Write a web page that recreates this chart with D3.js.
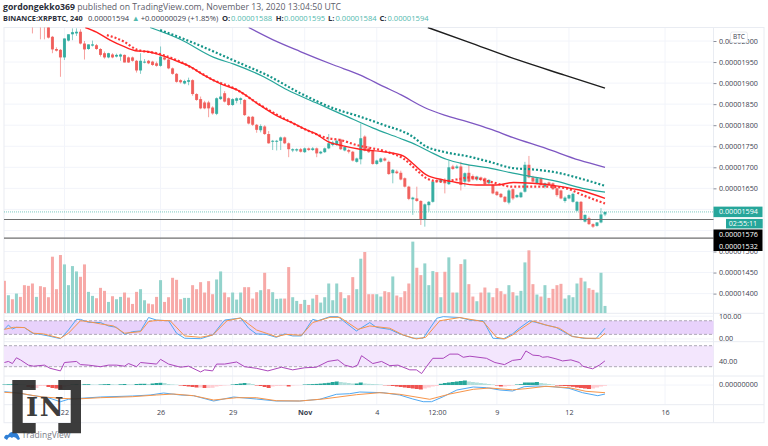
<!DOCTYPE html>
<html>
<head>
<meta charset="utf-8">
<script src="https://d3js.org/d3.v7.min.js"></script>
<style>
	html, body { margin: 0; padding: 0; background: #fff; }
	text { font-family: "Open Sans", Arial, sans-serif; }
</style>
</head>
<body>
<div id="chart"></div>
<script>
// prices are in satoshi (1e-8 BTC), one 4h bar per array slot
const openPrices = [
	2110,2096,2104,2092,2100,2086,2072,2062,2044,2056,
	2040,2036,2010,1981,1979,1961,2001,2016,2018,2022,
	1994,1981,1989,1990,1981,1971,1961,1968,1963,1963,
	1967,1961,1961,1953,1930,1949,1953,1951,1947,1941,
	1961,1956,1935,1922,1907,1899,1903,1907,1874,1862,
	1854,1854,1842,1827,1862,1876,1864,1848,1858,1860,
	1860,1820,1820,1801,1788,1797,1779,1761,1761,1763,
	1771,1757,1740,1740,1743,1736,1745,1741,1745,1733,
	1736,1745,1753,1753,1766,1740,1741,1737,1713,1719,
	1773,1745,1740,1708,1713,1721,1713,1686,1690,1687,
	1674,1654,1624,1626,1620,1576,1610,1618,1670,1665,
	1670,1660,1702,1698,1702,1666,1687,1679,1671,1676,
	1674,1662,1658,1642,1637,1630,1616,1648,1629,1629,
	1642,1706,1676,1662,1674,1654,1664,1662,1650,1645,
	1620,1626,1618,1597,1618,1571,1579,1565,1561,1569,1588
];
const highPrices = [
	2118,2110,2108,2106,2102,2090,2078,2066,2062,2060,
	2050,2044,2012,1985,1981,2006,2016,2030,2030,2028,
	2000,1992,2001,1993,1983,1975,1972,1971,1970,1970,
	1968,1963,1963,1955,1971,1957,1955,1953,1951,1987,
	1965,1958,1937,1924,1909,1908,1913,1909,1876,1868,
	1858,1858,1845,1866,1903,1881,1866,1864,1866,1866,
	1862,1822,1822,1803,1802,1800,1786,1765,1765,1773,
	1773,1759,1745,1745,1746,1747,1747,1748,1747,1739,
	1747,1779,1763,1766,1768,1750,1744,1739,1723,1804,
	1776,1750,1742,1718,1723,1724,1716,1696,1694,1692,
	1676,1656,1630,1654,1622,1614,1620,1668,1673,1673,
	1674,1716,1706,1706,1713,1688,1706,1683,1680,1678,
	1676,1672,1660,1644,1639,1632,1648,1650,1636,1642,
	1713,1727,1680,1676,1676,1664,1666,1664,1652,1647,
	1631,1636,1640,1620,1620,1588,1583,1567,1570,1603,1595
];
const lowPrices = [
	2098,2090,2094,2086,2080,2066,2056,2018,2040,2004,
	2004,2006,1971,1975,1915,1955,1999,2002,2012,1992,
	1956,1979,1987,1979,1963,1958,1959,1959,1961,1953,
	1949,1948,1951,1925,1922,1947,1945,1941,1939,1939,
	1954,1933,1920,1901,1899,1897,1895,1870,1858,1838,
	1838,1819,1825,1824,1860,1854,1846,1846,1852,1850,
	1822,1802,1798,1782,1783,1777,1756,1741,1740,1741,
	1755,1724,1736,1737,1735,1734,1739,1739,1724,1731,
	1734,1743,1750,1751,1741,1738,1733,1714,1711,1707,
	1738,1734,1706,1706,1711,1714,1682,1662,1684,1669,
	1652,1622,1587,1618,1563,1559,1595,1616,1664,1663,
	1638,1658,1694,1696,1645,1654,1664,1669,1668,1668,
	1658,1660,1636,1632,1627,1616,1612,1622,1627,1627,
	1640,1674,1664,1660,1655,1650,1656,1646,1630,1624,
	1616,1624,1616,1595,1574,1569,1563,1556,1559,1567,1584
];
const closePrices = [
	2102,2104,2098,2100,2086,2072,2062,2044,2056,2040,
	2036,2008,1980,1977,1961,2006,2016,2021,2022,1994,
	1980,1992,1992,1981,1967,1961,1971,1961,1967,1968,
	1949,1949,1953,1930,1953,1951,1947,1943,1941,1963,
	1956,1935,1922,1903,1902,1905,1907,1874,1860,1840,
	1840,1840,1828,1864,1868,1856,1848,1862,1864,1864,
	1824,1804,1801,1789,1798,1779,1757,1763,1763,1771,
	1757,1743,1743,1743,1737,1745,1741,1745,1733,1737,
	1745,1757,1759,1763,1743,1748,1737,1716,1721,1769,
	1740,1736,1708,1716,1721,1716,1684,1694,1686,1671,
	1654,1625,1628,1620,1576,1612,1618,1666,1666,1671,
	1662,1700,1696,1702,1658,1686,1666,1671,1678,1670,
	1660,1670,1638,1634,1629,1618,1645,1626,1634,1640,
	1706,1676,1666,1674,1658,1662,1658,1648,1634,1626,
	1628,1634,1637,1618,1576,1587,1565,1559,1569,1588,1594
];
const volumes = [
	97,54,42,59,49,84,82,89,49,81,
	78,48,169,72,174,146,84,141,125,109,
	146,64,52,45,76,67,34,51,42,49,
	62,47,28,64,72,39,29,27,49,99,
	34,48,106,100,42,46,46,84,72,93,
	62,96,57,101,125,62,48,62,41,62,
	78,78,44,63,69,121,72,63,43,44,
	44,138,48,37,28,40,25,44,55,32,
	48,89,39,89,63,45,54,108,72,163,
	183,57,57,57,50,66,63,110,53,48,
	66,89,214,136,114,149,84,126,123,48,
	124,167,62,62,147,161,87,50,36,62,
	77,62,48,75,66,57,84,63,53,67,
	152,188,87,56,50,84,46,73,84,88,
	44,54,48,89,106,95,75,70,62,121,22
];
const macdHist = [
	.5,.7,.8,.8,.6,.5,-2,-3,-3,-1,
	-1,-2,-3,-3.5,-4,-2,-1,.5,.8,.5,
	.8,.8,.5,.4,.5,.8,1,.7,.5,.7,
	1,.6,.5,1,1.2,1.2,1,1.5,2,2.2,
	2,1,.6,.3,-.5,-1,-1.5,-2,-2.5,-2.5,
	-3,-3,-2.8,-1.5,-1,-.5,-.3,.5,1,1.5,
	2,1.8,1,-.5,-1,-2,-3,-1.5,-1,-1,
	-.7,-1.5,-.5,-.3,-.2,.5,.7,.9,1.1,1.4,
	1.8,2.2,3,3.5,3,2.5,2,1.5,1.5,2.5,
	1.5,1.2,1,.8,.5,-.3,-.5,-1,-1.5,-2,
	-2.5,-3,-3.5,-4,-4.5,-3.5,-2.5,-1.5,-1,1.2,
	2,2.5,3,3.5,4,4.5,3.5,3,2.5,2,
	1.5,1,.5,-.5,-1.5,-1.5,-1,-.5,.5,.8,
	2.5,2.5,2.5,3,2,1.5,1,.5,-.5,-.8,
	-1,-1.3,-1.8,-2.5,-3,-3.5,-4,-3.5,-2.5,-1.5,-.8
];

// moving averages, [bar, price]
const redEma = [[20.2,2032],[23,2021],[26.4,2002],[29.8,1987],[32.7,1977],[35.6,1975],[38.9,1967],[42.3,1955],[46.4,1939],[49.8,1919],[53.9,1899],[58.9,1880],[63.1,1852],[68.1,1822],[72.3,1804],[75.2,1790],[77.5,1781],[80.8,1761],[84.6,1751],[88.8,1743],[95.4,1736],[99.6,1727],[102,1709],[105.4,1682],[109.6,1670],[112.9,1664],[117.9,1658],[122.9,1658],[127.1,1664],[131.9,1662],[137.8,1656],[143.6,1646],[150,1626]];
const redSma = [[25.6,2014],[29.8,1999],[33,1980],[38,1971],[43,1955],[48,1930],[52.2,1907],[57.3,1888],[63.9,1848],[71.4,1808],[75.4,1789],[80.8,1769],[83.75,1765],[87.9,1753],[95.4,1737],[99.6,1721],[102.9,1694],[105.4,1674],[108.75,1666],[112.9,1671],[116.3,1676],[121.2,1666],[127,1654],[135.3,1654],[140.3,1650],[144.4,1634],[150,1614]];
const tealEma = [[36.4,2032],[43.9,2004],[52.3,1961],[57.3,1945],[64.75,1915],[70.6,1884],[78.1,1852],[84.75,1824],[92.1,1793],[98.75,1769],[102.9,1753],[106.25,1737],[110.4,1719],[114.6,1708],[121.2,1698],[127,1686],[131,1679],[137.75,1667],[144.4,1650],[150,1641]];
const tealSma = [[38.9,2026],[45.6,2002],[52.25,1975],[58.9,1947],[65.6,1919],[73.9,1876],[82.25,1840],[88.9,1820],[94.6,1801],[101.25,1777],[105.4,1749],[109.6,1737],[116.25,1725],[121.2,1713],[127,1698],[131.9,1695],[137.75,1688],[143.6,1674],[150,1656]];
const purpleMa = [[61,2032],[67.25,2002],[73.9,1975],[82.25,1943],[88.9,1919],[94.9,1891],[99.1,1872],[104.9,1842],[109.9,1824],[115.75,1808],[121.6,1790],[126.9,1771],[135.25,1745],[143.6,1717],[150,1700]];
const blackMa = [[105.75,2032],[115.75,1998],[128.25,1955],[139.9,1919],[150,1888]];

// oscillators, [bar, value]
const stochK = [[0,42],[1,61],[2,44],[3,51],[5,50],[7,25],[9,20],[11,13],[14,1],[16,39],[18,86],[19,86],[21,73],[24,72],[26,57],[28,51],[30,20],[32,32],[34,35],[36,94],[38,83],[41,80],[43,25],[45,3],[49,1],[52,17],[55,83],[59,92],[61,47],[62.9,22],[65.4,20],[67.9,7],[70,22],[72,13],[74.2,13],[77,86],[78.3,80],[81.3,98],[83.3,98],[87.9,35],[91.25,72],[92.9,51],[96.25,42],[98.75,22],[102,3],[104.6,3],[108,91],[109.6,98],[113.75,94],[116.25,83],[119.6,80],[122,3],[124.6,0],[126.9,22],[128.6,47],[131.1,79],[132.75,73],[135.25,61],[137.75,51],[141.5,13],[144.4,3],[147.75,1],[150,47]];
const stochD = [[0,42],[2.3,51],[5,50],[7.25,25],[9.75,22],[14,3],[16,25],[19,80],[21,76],[24,66],[27.25,57],[30,25],[34,32],[36,76],[38,82],[41.4,80],[45,13],[49,7],[52,17],[55.6,80],[59,92],[63,39],[65.4,25],[67.9,10],[70.4,20],[74.2,16],[77,72],[81.3,95],[83.8,95],[88.3,42],[91.25,57],[96.25,47],[99.6,17],[102.9,0],[105.2,7],[108.75,80],[113.75,94],[119.6,76],[122.9,7],[125,0],[126.9,17],[128.6,39],[132,79],[135.25,61],[138.6,47],[141.9,10],[145.25,3],[148.6,3],[150,25]];
const rsiLine = [[0,38],[1,40],[2,36],[3,47],[4,43],[6,33],[7.25,31],[10,33],[11.4,27],[14,22],[15,38],[18,40],[19,34],[21,33],[24,30],[26,33],[28,33],[30,31],[31,36],[33,30],[34,38],[38,35],[39,44],[41,35],[44,29],[46,31],[49,20],[50,24],[52,22],[53,35],[55,35],[58,39],[60,30],[62.9,27],[65.8,22],[69.2,29],[72,24],[75,28],[77.9,29],[80.8,40],[83.3,43],[85,33],[87,29],[88.2,33],[89.2,51],[92,36],[94.2,40],[96.25,32],[98.3,33],[101.25,24],[102.9,24],[104.2,17],[105.4,30],[107,46],[109.6,46],[111.25,54],[113.3,54],[114.6,48],[116.25,50],[120.4,46],[122.5,38],[124.9,34],[126.9,42],[129,44],[130.25,60],[132,52],[133.6,51],[134.4,48],[135.7,49],[137.75,45],[139.4,41],[141.5,43],[143.6,38],[144.4,31],[146.9,26],[148.6,33],[149.8,40],[150,41]];
const macdLine = [[0,-6.7],[3,-7.7],[7.25,-10.7],[10.6,-12.3],[14,-16.7],[16,-14.3],[19,-13.3],[24,-12],[32,-11],[36.4,-10],[39.75,-8],[44,-10],[47.25,-10.7],[52.25,-16],[57.25,-12],[62.9,-14],[67.9,-16],[73.75,-16],[78.75,-14.3],[82.9,-9.3],[86.25,-8.7],[88.75,-7],[94.6,-7.7],[98.75,-10],[102,-14],[104.6,-16.7],[106.7,-16.7],[109.6,-11.7],[113,-5],[117.1,-2],[120.4,-2.7],[123.75,-5],[126.9,-6],[129.8,-1.7],[132.75,-1],[136.9,-1.7],[141,-3.3],[144.4,-7.7],[148.2,-10.7],[150,-9]];
const signalLine = [[0,-7.3],[4,-8.3],[8.9,-11.7],[14,-13.3],[18,-14],[24,-12.7],[32,-11.7],[38,-10],[42.2,-9],[47.25,-10.7],[52.25,-15],[58,-12.7],[62.9,-12.7],[67.9,-15.7],[73.75,-16],[79.6,-14],[87.9,-9.7],[93.75,-7.7],[98.75,-9.3],[106.25,-14.3],[111.25,-9],[117.1,-4.3],[121.25,-3],[126.9,-4.8],[130.25,-3.7],[135.25,-1.3],[141,-2.7],[145.25,-6.3],[150,-7.7]];

// 1600 and 1550 only get a gridline, their labels sit behind the price tags
const priceTicks = [2000,1950,1900,1850,1800,1750,1700,1650,1600,1550,1500,1450,1400];
const priceLabelTicks = [2000,1950,1900,1850,1800,1750,1700,1650,1500,1450,1400];
const dayTicks = [15,39,57,75,93,108,123,141,165];
const dayLabels = ['22','26','29','Nov','4','12:00','9','12','16'];
const lastPrice = 1594;
const supportLevels = [1576,1532];

const titleText = ['gordongekko369',' published on TradingView.com, November 13, 2020 13:04:50 UTC'];
const legendTexts = ['BINANCE:XRPBTC, 240','0.00001594','▲','+0.00000029 (+1.85%)','O:','0.00001588','H:','0.00001595','L:','0.00001584','C:','0.00001594'];

// ----------------------------------
// LAYOUT
// ----------------------------------

const width = 768, height = 446;
const plotLeft = 4, plotRight = 713.5, outerRight = 764;
const paneTop = 27.5, priceBottom = 313.3, stochBottom = 341.7, rsiBottom = 376, macdBottom = 404.7, axisBottom = 422.7;

const green = '#26a69a', red = '#ef5350';
const axisFont = '7.2px';

// left edge and colour of each legendTexts entry
const legendX = [3,88,132,140.7,222,231,275.7,284,328,335.5,379.5,387.5];
const legendColors = ['#2a2e39','#3c4250','#53b9ae','#3c4250','#2a2e39','#53b9ae','#2a2e39','#53b9ae','#2a2e39','#53b9ae','#2a2e39','#53b9ae'];

const xScale = d3.scaleLinear().domain([0,150]).range([4.4,605]);
const yPrice = d3.scaleLinear().domain([2000,1400]).range([41,293.6]);
const yVolume = d3.scaleLinear().domain([0,189]).range([313.3,250]);
const yStoch = d3.scaleLinear().domain([0,100]).range([338.9,316.2]);
const yRsi = d3.scaleLinear().domain([30,70]).range([366.7,345.7]);
const yMacd = d3.scaleLinear().domain([-1,1]).range([386,384]);

const svg = d3.select('#chart').append('svg')
	.attr('width', width)
	.attr('height', height)
	.style('display', 'block');

svg.append('rect').attr('width', width).attr('height', height).attr('fill', '#fff');

svg.append('clipPath').attr('id', 'plot-clip')
	.append('rect')
	.attr('x', plotLeft).attr('y', paneTop)
	.attr('width', plotRight - plotLeft).attr('height', priceBottom - paneTop);

// ----------------------------------
// GRID AND PANES
// ----------------------------------

const grid = svg.append('g').attr('stroke', '#f2f4fa').attr('stroke-width', 1).attr('fill', 'none');

dayTicks.forEach(t => {
	grid.append('line')
		.attr('x1', xScale(t)).attr('x2', xScale(t))
		.attr('y1', paneTop).attr('y2', macdBottom);
});

const gridRows = priceTicks.map(v => yPrice(v)).concat([yStoch(100), yStoch(0), yRsi(40), yMacd(0)]);
gridRows.forEach(y => {
	grid.append('line')
		.attr('x1', plotLeft).attr('x2', plotRight)
		.attr('y1', y).attr('y2', y);
});

const frame = svg.append('g').attr('stroke', '#e9ecf2').attr('stroke-width', 1).attr('fill', 'none');
frame.append('rect')
	.attr('x', plotLeft).attr('y', paneTop)
	.attr('width', outerRight - plotLeft).attr('height', axisBottom - paneTop);
[priceBottom, stochBottom, rsiBottom, macdBottom].forEach(y => {
	frame.append('line').attr('x1', plotLeft).attr('x2', outerRight).attr('y1', y).attr('y2', y);
});
frame.append('line').attr('x1', plotRight).attr('x2', plotRight).attr('y1', paneTop).attr('y2', axisBottom);

// oscillator bands
svg.append('rect')
	.attr('x', plotLeft).attr('width', plotRight - plotLeft)
	.attr('y', yStoch(80)).attr('height', yStoch(20) - yStoch(80))
	.attr('fill', '#e8d2fb');
svg.append('rect')
	.attr('x', plotLeft).attr('width', plotRight - plotLeft)
	.attr('y', yRsi(70)).attr('height', yRsi(30) - yRsi(70))
	.attr('fill', '#f3e6fd');

[yStoch(80), yStoch(20), yRsi(70), yRsi(30)].forEach(y => {
	svg.append('line')
		.attr('x1', plotLeft).attr('x2', plotRight)
		.attr('y1', y).attr('y2', y)
		.attr('stroke', '#9a97a3')
		.attr('stroke-width', 0.8)
		.attr('stroke-dasharray', '3 2');
});

// ----------------------------------
// VOLUME AND CANDLES
// ----------------------------------

const bars = d3.range(openPrices.length);
const isUp = i => closePrices[i] >= openPrices[i];
const barColor = i => isUp(i) ? green : red;
const priceChart = svg.append('g').attr('clip-path', 'url(#plot-clip)');

priceChart.append('g').selectAll('rect').data(bars).join('rect')
	.attr('x', i => xScale(i) - 1.5)
	.attr('width', 3)
	.attr('y', i => yVolume(volumes[i]))
	.attr('height', i => yVolume(0) - yVolume(volumes[i]))
	.attr('fill', i => isUp(i) ? '#93d3cc' : '#f7a9a7');

priceChart.append('g').selectAll('line').data(bars).join('line')
	.attr('x1', i => xScale(i)).attr('x2', i => xScale(i))
	.attr('y1', i => yPrice(highPrices[i]))
	.attr('y2', i => yPrice(lowPrices[i]))
	.attr('stroke', barColor)
	.attr('stroke-opacity', 0.55)
	.attr('stroke-width', 1);

priceChart.append('g').selectAll('rect').data(bars).join('rect')
	.attr('x', i => xScale(i) - 1.5)
	.attr('width', 3)
	.attr('y', i => yPrice(Math.max(openPrices[i], closePrices[i])))
	.attr('height', i => Math.max(1, Math.abs(yPrice(openPrices[i]) - yPrice(closePrices[i]))))
	.attr('fill', barColor)
	.attr('fill-opacity', 0.88);

// ----------------------------------
// MOVING AVERAGES
// ----------------------------------

const drawLine = (parent, points, yScale, color, strokeWidth, dash, curve) => {
	const line = d3.line()
		.x(d => xScale(d[0]))
		.y(d => yScale(d[1]))
		.curve(curve || d3.curveLinear);
	parent.append('path')
		.datum(points)
		.attr('d', line)
		.attr('fill', 'none')
		.attr('stroke', color)
		.attr('stroke-width', strokeWidth)
		.attr('stroke-linejoin', 'round')
		.attr('stroke-dasharray', dash || null);
};

drawLine(priceChart, blackMa, yPrice, '#1e1e1e', 1.4, null, d3.curveMonotoneX);
drawLine(priceChart, purpleMa, yPrice, '#7e57c2', 1.3, null, d3.curveMonotoneX);
drawLine(priceChart, tealEma, yPrice, green, 1.2, null, d3.curveMonotoneX);
drawLine(priceChart, tealSma, yPrice, '#149488', 2.2, '2 2', d3.curveMonotoneX);
drawLine(priceChart, redSma, yPrice, '#fb3a3a', 2.2, '2 2', d3.curveMonotoneX);
drawLine(priceChart, redEma, yPrice, '#ff2222', 1.4, null, d3.curveMonotoneX);

// ----------------------------------
// PRICE LINES
// ----------------------------------

svg.append('line')
	.attr('x1', plotLeft).attr('x2', plotRight)
	.attr('y1', yPrice(lastPrice)).attr('y2', yPrice(lastPrice))
	.attr('stroke', '#26a69a').attr('stroke-opacity', 0.6)
	.attr('stroke-dasharray', '1 1');

supportLevels.forEach(v => {
	svg.append('line')
		.attr('x1', plotLeft).attr('x2', plotRight)
		.attr('y1', yPrice(v)).attr('y2', yPrice(v))
		.attr('stroke', '#6f6f6f')
		.attr('stroke-width', 1.2);
});

// ----------------------------------
// OSCILLATORS
// ----------------------------------

drawLine(svg, stochK, yStoch, '#4fa8f2', 1);
drawLine(svg, stochD, yStoch, '#f7954a', 1);
drawLine(svg, rsiLine, yRsi, '#ab47bc', 1);

const histColor = i => {
	const rising = i === 0 || macdHist[i] >= macdHist[i - 1];
	if (macdHist[i] >= 0) return rising ? '#26a69a' : '#b2dfdb';
	return rising ? '#ffcdd2' : '#ef5350';
};

svg.append('g').selectAll('rect').data(bars).join('rect')
	.attr('x', i => xScale(i) - 2)
	.attr('width', 4)
	.attr('y', i => Math.min(yMacd(macdHist[i]), yMacd(0)))
	.attr('height', i => Math.abs(yMacd(macdHist[i]) - yMacd(0)))
	.attr('fill', histColor);

drawLine(svg, macdLine, yMacd, '#4fa8f2', 1);
drawLine(svg, signalLine, yMacd, '#f7954a', 1);

// ----------------------------------
// AXES
// ----------------------------------

const priceAxis = svg.append('g')
	.attr('transform', `translate(${plotRight},0)`)
	.call(d3.axisRight(yPrice)
		.tickValues(priceLabelTicks)
		.tickSize(3)
		.tickPadding(2.5)
		.tickFormat(v => (v / 1e8).toFixed(8)));
priceAxis.select('.domain').remove();
priceAxis.selectAll('.tick line').attr('stroke', '#8a8f9b');
priceAxis.selectAll('text')
	.style('font-size', axisFont)
	.style('font-family', '"Open Sans", Arial, sans-serif')
	.attr('fill', '#3c4250');

const dayAxis = svg.append('g')
	.attr('transform', `translate(0,${macdBottom})`)
	.call(d3.axisBottom(xScale)
		.tickValues(dayTicks)
		.tickSize(0)
		.tickPadding(5)
		.tickFormat((d, i) => dayLabels[i]));
dayAxis.select('.domain').remove();
dayAxis.selectAll('text')
	.style('font-size', axisFont)
	.style('font-family', '"Open Sans", Arial, sans-serif')
	.style('font-weight', (d, i) => dayLabels[i] === 'Nov' ? 'bold' : 'normal')
	.attr('fill', '#3c4250');

const paneLabels = [
	['100.00', yStoch(100)],
	['0.00', yStoch(0)],
	['40.00', yRsi(40)],
	['0.00000000', yMacd(0)]
];
paneLabels.forEach(d => {
	svg.append('text')
		.attr('x', 719).attr('y', d[1]).attr('dy', '.34em')
		.attr('fill', '#3c4250')
		.style('font-size', axisFont)
		.text(d[0]);
});

// ----------------------------------
// PRICE TAGS
// ----------------------------------

svg.append('rect')
	.attr('x', plotRight).attr('y', yPrice(lastPrice) - 5.3)
	.attr('width', 49).attr('height', 10.5)
	.attr('fill', green);
svg.append('text')
	.attr('x', 719).attr('y', yPrice(lastPrice)).attr('dy', '.34em')
	.attr('fill', '#fff').style('font-size', axisFont)
	.text((lastPrice / 1e8).toFixed(8));

svg.append('rect')
	.attr('x', 726).attr('y', yPrice(lastPrice) + 7)
	.attr('width', 36.7).attr('height', 9.5)
	.attr('fill', green);
svg.append('text')
	.attr('x', 728.7).attr('y', yPrice(lastPrice) + 11.7).attr('dy', '.34em')
	.attr('fill', '#fff').style('font-size', axisFont)
	.text('02:55:11');

svg.append('rect')
	.attr('x', plotRight).attr('y', yPrice(supportLevels[0]) + 10)
	.attr('width', 49).attr('height', 21.5)
	.attr('fill', '#000');
[[supportLevels[0], 15.5], [supportLevels[1], 8.4]].forEach(d => {
	svg.append('text')
		.attr('x', 719).attr('y', yPrice(d[0]) + d[1]).attr('dy', '.34em')
		.attr('fill', '#fff').style('font-size', axisFont)
		.text((d[0] / 1e8).toFixed(8));
});

svg.append('rect')
	.attr('x', 730.5).attr('y', 32)
	.attr('width', 17).attr('height', 10.5)
	.attr('rx', 2)
	.attr('fill', '#fff').attr('stroke', '#dfe2e8').attr('stroke-width', 0.7);
svg.append('text')
	.attr('x', 739).attr('y', 37.2).attr('dy', '.34em')
	.attr('text-anchor', 'middle')
	.attr('fill', '#3c4250').style('font-size', '6.5px')
	.text('BTC');

// ----------------------------------
// HEADER
// ----------------------------------

const titleLine = svg.append('text').attr('x', 3).attr('y', 10).attr('fill', '#5d606b').style('font-size', '8.7px');
titleLine.append('tspan').attr('font-weight', 'bold').attr('fill', '#2a2e39').text(titleText[0]);
titleLine.append('tspan').text(titleText[1]);

svg.append('g').selectAll('text').data(legendTexts).join('text')
	.attr('x', (d, i) => legendX[i])
	.attr('y', 21)
	.attr('fill', (d, i) => legendColors[i])
	.attr('font-weight', (d, i) => legendColors[i] === '#2a2e39' ? 'bold' : 'normal')
	.style('font-size', (d, i) => i === 0 ? '7.3px' : '7.6px')
	.text(d => d);

// ----------------------------------
// WATERMARKS
// ----------------------------------

const tvLogo = svg.append('g').attr('fill', '#2f7fd6');
tvLogo.append('path').attr('d', 'M4 438 Q5 434 8 435 Q11 430 14 433 Q17 431 20 439 L18 440 Q14 435 12 438 Q9 435 7 440 Z');
svg.append('text')
	.attr('x', 21.7).attr('y', 437.5)
	.attr('fill', '#7d8089')
	.style('font-size', '8.5px')
	.text('TradingView');

const inLogo = svg.append('g').attr('fill', '#2b2b2b').attr('fill-opacity', 0.92);
inLogo.append('path').attr('d', 'M12.3 380 H35.7 V390 H22.7 V423 H35.7 V433.3 H12.3 Z');
inLogo.append('path').attr('d', 'M81 380 H58.3 V390 H70.7 V423 H58.3 V433.3 H81 Z');
inLogo.append('text')
	.attr('x', 45.5).attr('y', 416)
	.attr('text-anchor', 'middle')
	.style('font-family', '"DejaVu Serif", serif')
	.style('font-weight', 'bold')
	.style('font-size', '26px')
	.style('letter-spacing', '1.5px')
	.text('IN');
</script>
</body>
</html>
